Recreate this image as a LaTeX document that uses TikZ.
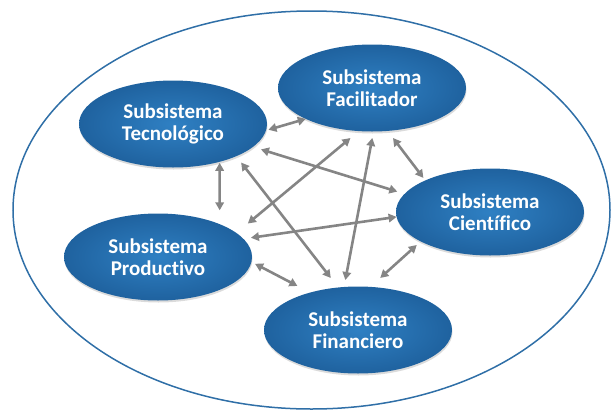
\documentclass[tikz,border=0pt]{standalone}
\usepackage{fontspec}
\setmainfont{Carlito}[Ligatures=NoCommon]
\usetikzlibrary{arrows.meta,shapes.geometric,shadows}
\definecolor{rimblue}{HTML}{2F6FA7}
\definecolor{nodecore}{HTML}{2F80C3}
\definecolor{nodeedge}{HTML}{1F629F}
\definecolor{linkgray}{HTML}{858585}
\begin{document}
\begin{tikzpicture}[x=1pt,y=-1pt,
  subsys/.style={ellipse, minimum width=188pt, minimum height=87pt,
    inner sep=0pt, outer sep=0pt, inner color=nodecore, outer color=nodeedge,
    drop shadow={shadow xshift=0.5pt, shadow yshift=-2pt, opacity=0.2, fill=black!70},
    text=white, align=center, font=\fontsize{21}{22.2}\selectfont\bfseries},
  link/.style={draw=linkgray, line width=2.6pt,
    {Triangle[length=8pt,width=8.5pt]}-{Triangle[length=8pt,width=8.5pt]}}]
\useasboundingbox (0,0) rectangle (611,410);

% enclosing system boundary
\draw[rimblue, line width=1.5pt] (311.5,210) ellipse [x radius=298.5, y radius=199];

% the five subsystems
\node[subsys] (tec)  at (173,124) {Subsistema\\Tecnológico};
\node[subsys] (fac)  at (372,88)  {Subsistema\\Facilitador};
\node[subsys] (cie)  at (490,212) {Subsistema\\Científico};
\node[subsys] (prod) at (158,257) {Subsistema\\Productivo};
\node[subsys] (fin)  at (358,330) {Subsistema\\Financiero};

% two-way relations between every pair
\draw[link, shorten <=2.6pt] (tec.-4.8) -- (fac.205.7);
\draw[link, shorten <=8.4pt, shorten >=7.6pt] (tec.-16.6) -- (cie.168.3);
\draw[link, shorten <=1.1pt, shorten >=13.9pt] (tec.-39.5) -- (prod.28.5);
\draw[link, shorten <=8pt, shorten >=12pt] (tec.-27.8) -- (fin.115.9);
\draw[link, shorten <=10.9pt, shorten >=14.8pt] (fac.-107.4) -- (prod.17.6);
\draw[link, shorten <=6.6pt, shorten >=7.1pt] (fac.-88.4) -- (fin.108.4);
\draw[link, shorten <=8.9pt, shorten >=3.2pt] (fac.-70) -- (cie.154.2);
\draw[link, shorten <=7.6pt] (prod.12.7) -- (cie.183.7);
\draw[link, shorten <=4.1pt, shorten >=14.3pt] (prod.-3.1) -- (fin.142.2);
\draw[link, shorten <=5.3pt, shorten >=13.3pt] (cie.203.1) -- (fin.74.5);
\end{tikzpicture}
\end{document}
